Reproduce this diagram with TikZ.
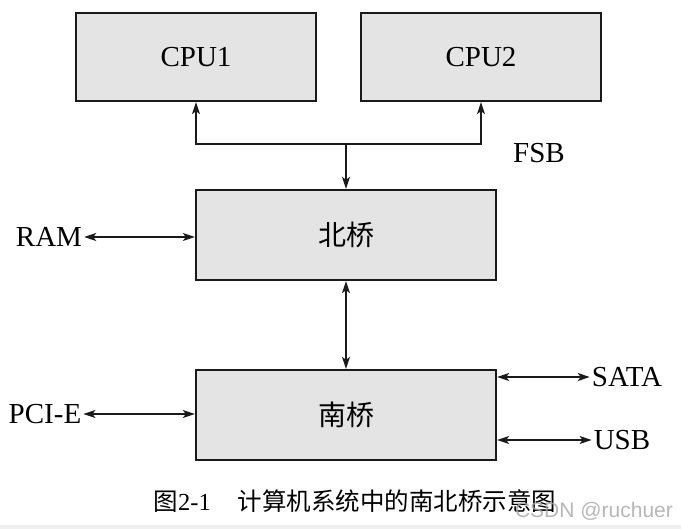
\documentclass[tikz,border=0pt]{standalone}
\usepackage{fontspec}
\setmainfont{Liberation Serif}
\newfontfamily\cjk{Noto Sans CJK SC}
\newfontfamily\wmfont{Liberation Sans}
\usetikzlibrary{arrows.meta}
\definecolor{boxgray}{HTML}{E4E4E4}
\definecolor{edge}{HTML}{1A1A1A}
\tikzset{
  chip/.style={draw=edge, line width=2.4pt, fill=boxgray, minimum width=240pt, minimum height=88pt, inner sep=0pt, font=\fontsize{29}{32}\selectfont},
  bridge/.style={chip, minimum width=300pt, minimum height=90pt, font=\cjk\fontsize{28}{32}\selectfont},
  port/.style={inner sep=2pt, font=\fontsize{29}{32}\selectfont},
  arr/.style={line width=1.2pt, draw=edge, -{Stealth[length=12pt,width=8pt,inset=3pt]}},
  biarr/.style={line width=1.2pt, draw=edge, {Stealth[length=12pt,width=8pt,inset=3pt]}-{Stealth[length=12pt,width=8pt,inset=3pt]}}
}
\begin{document}
\begin{tikzpicture}[x=1pt,y=-1pt]
\useasboundingbox[fill=white] (0,0) rectangle (681,529);
\fill[gray!12] (0,525) rectangle (681,529);

\node[chip] (cpu1) at (196,57) {CPU1};
\node[chip] (cpu2) at (481,57) {CPU2};
\node[bridge] (nb) at (346,235) {北桥};
\node[bridge] (sb) at (346,415) {南桥};

\coordinate (fsbjoin) at (346,144);
\node[port] (fsb) at (539,153) {FSB};
\node[port] (ram) at (49,237) {RAM};
\node[port] (pcie) at (45,414) {PCI-E};
\node[port] (sata) at (627,377) {SATA};
\node[port] (usb) at (622,440) {USB};

\draw[arr] (fsbjoin) -| (cpu1);
\draw[arr] (fsbjoin) -| (cpu2);
\draw[arr] (fsbjoin) -- (nb);
\draw[biarr] (nb) -- (sb);
\draw[biarr] (ram) -- (ram -| nb.west);
\draw[biarr] (pcie) -- (pcie -| sb.west);
\draw[biarr] (sata -| sb.east) -- (sata);
\draw[biarr] (usb -| sb.east) -- (usb);

\node (caption) at (355,501) {\fontsize{24.5}{28}\selectfont{\cjk 图}2-1\hspace{1.1em}{\cjk 计算机系统中的南北桥示意图}};
\node[text=gray!70, opacity=0.8] (mark) at (594,511) {\wmfont\fontsize{21}{24}\selectfont CSDN @ruchuer};
\end{tikzpicture}
\end{document}
